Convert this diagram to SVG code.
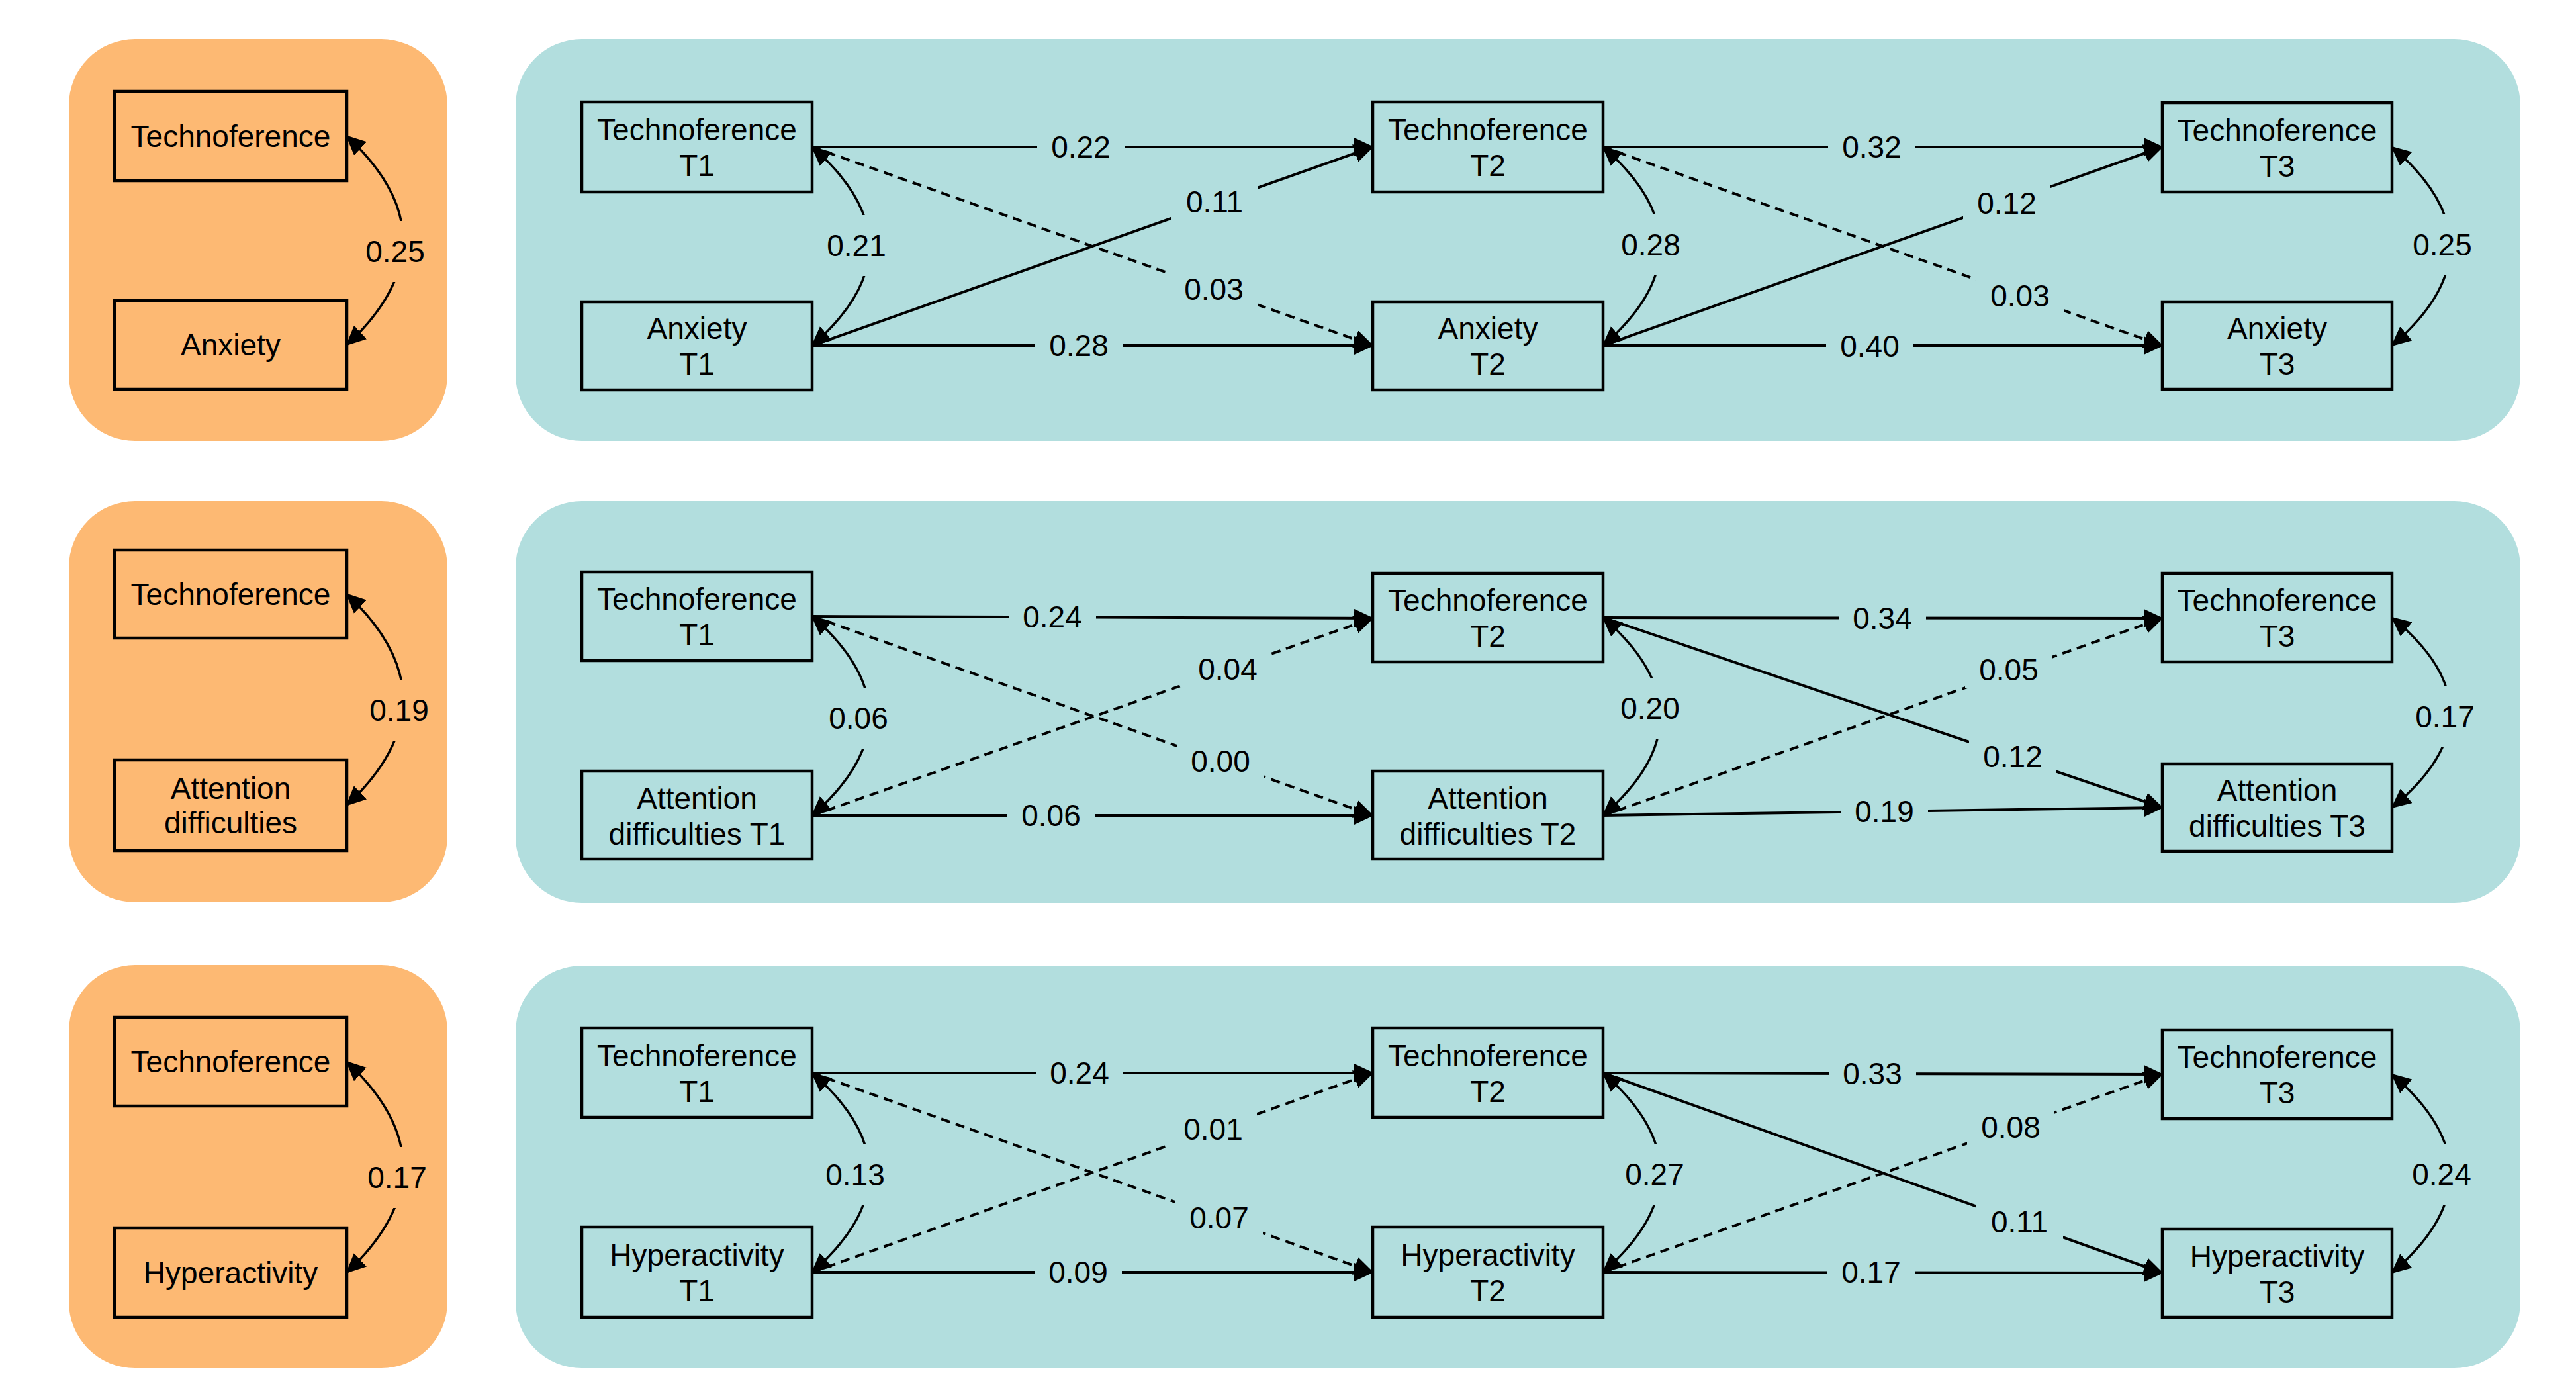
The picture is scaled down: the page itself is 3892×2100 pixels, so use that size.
<svg xmlns="http://www.w3.org/2000/svg" width="3892" height="2100" viewBox="0 0 3892 2100">
<style>
.po{fill:#FDB973}
.pb{fill:#B2DEDE}
.box{fill:none;stroke:#000;stroke-width:4.5}
.t{font-family:"Liberation Sans",Arial,sans-serif;font-size:46px;text-anchor:middle;fill:#000}
.e{fill:none;stroke:#000;stroke-width:4;marker-end:url(#ah)}
.d{stroke-dasharray:14 9}
.c{fill:none;stroke:#000;stroke-width:3.5;marker-start:url(#ah);marker-end:url(#ah)}
</style>
<defs>
<marker id="ah" viewBox="0 0 30 28" refX="28" refY="14" markerWidth="30" markerHeight="28" markerUnits="userSpaceOnUse" orient="auto-start-reverse">
<path d="M0,0 L30,14 L0,28 z" fill="#000"/>
</marker>
</defs>
<rect width="3892" height="2100" fill="#fff"/>
<g id="panels">
<rect class="po" x="104" y="59" width="572" height="607" rx="100"/>
<rect class="po" x="104" y="757" width="572" height="606" rx="100"/>
<rect class="po" x="104" y="1458" width="572" height="609" rx="100"/>
<rect class="pb" x="779" y="59" width="3029" height="607" rx="100"/>
<rect class="pb" x="779" y="757" width="3029" height="607" rx="100"/>
<rect class="pb" x="779" y="1459" width="3029" height="608" rx="100"/>
</g>
<g id="connectors">
<g id="edges">
<path class="c" d="M524,205.5 Q694,363 524,521"/>
<path class="c" d="M524,897.5 Q694,1057 524,1216.5"/>
<path class="c" d="M524,1604 Q694,1763 524,1922.5"/>

<path class="e" d="M1227,222 L2074,222"/>
<path class="e" d="M1227,522 L2074,522"/>
<path class="e" d="M1227,522 L2074,222"/>
<path class="e d" d="M1227,222 L2074,522"/>
<path class="c" d="M1227,222 Q1400,372 1227,522"/>
<path class="e" d="M2422,222 L3267,222"/>
<path class="e" d="M2422,522 L3267,522"/>
<path class="e" d="M2422,522 L3267,222"/>
<path class="e d" d="M2422,222 L3267,522"/>
<path class="c" d="M2422,222 Q2595,372 2422,522"/>
<path class="c" d="M3614,222 Q3790,372 3614,522"/>

<path class="e" d="M1227,931 L2074,934"/>
<path class="e" d="M1227,1232 L2074,1232"/>
<path class="e d" d="M1227,1232 L2074,934"/>
<path class="e d" d="M1227,931 L2074,1232"/>
<path class="c" d="M1227,931 Q1400,1081 1227,1232"/>
<path class="e" d="M2422,933 L3267,934"/>
<path class="e" d="M2422,1232 L3267,1220"/>
<path class="e d" d="M2422,1232 L3267,934"/>
<path class="e" d="M2422,933 L3267,1220"/>
<path class="c" d="M2422,933 Q2595,1082 2422,1232"/>
<path class="c" d="M3614,933 Q3790,1076 3614,1220"/>

<path class="e" d="M1227,1621 L2074,1621"/>
<path class="e" d="M1227,1922 L2074,1922"/>
<path class="e d" d="M1227,1922 L2074,1621"/>
<path class="e d" d="M1227,1621 L2074,1922"/>
<path class="c" d="M1227,1621 Q1400,1771 1227,1922"/>
<path class="e" d="M2422,1621 L3267,1623"/>
<path class="e" d="M2422,1922 L3267,1923"/>
<path class="e d" d="M2422,1922 L3267,1623"/>
<path class="e" d="M2422,1621 L3267,1923"/>
<path class="c" d="M2422,1621 Q2595,1771 2422,1922"/>
<path class="c" d="M3614,1623 Q3790,1773 3614,1923"/>
</g>
<g id="edge-labels">
<rect class="po" x="547" y="334" width="100" height="92"/><text class="t" x="597" y="396">0.25</text>
<rect class="po" x="553" y="1027" width="100" height="92"/><text class="t" x="603" y="1089">0.19</text>
<rect class="po" x="550" y="1733" width="100" height="92"/><text class="t" x="600" y="1795">0.17</text>

<rect class="pb" x="1567" y="194" width="132" height="56"/><text class="t" x="1633" y="238">0.22</text>
<rect class="pb" x="1564" y="494" width="132" height="56"/><text class="t" x="1630" y="538">0.28</text>
<rect class="pb" x="1769" y="277" width="132" height="56"/><text class="t" x="1835" y="321">0.11</text>
<rect class="pb" x="1768" y="409" width="132" height="56"/><text class="t" x="1834" y="453">0.03</text>
<rect class="pb" x="1244" y="325" width="100" height="92"/><text class="t" x="1294" y="387">0.21</text>
<rect class="pb" x="2762" y="194" width="132" height="56"/><text class="t" x="2828" y="238">0.32</text>
<rect class="pb" x="2759" y="495" width="132" height="56"/><text class="t" x="2825" y="539">0.40</text>
<rect class="pb" x="2966" y="279" width="132" height="56"/><text class="t" x="3032" y="323">0.12</text>
<rect class="pb" x="2986" y="419" width="132" height="56"/><text class="t" x="3052" y="463">0.03</text>
<rect class="pb" x="2444" y="324" width="100" height="92"/><text class="t" x="2494" y="386">0.28</text>
<rect class="pb" x="3640" y="324" width="100" height="92"/><text class="t" x="3690" y="386">0.25</text>

<rect class="pb" x="1524" y="904" width="132" height="56"/><text class="t" x="1590" y="948">0.24</text>
<rect class="pb" x="1522" y="1204" width="132" height="56"/><text class="t" x="1588" y="1248">0.06</text>
<rect class="pb" x="1789" y="983" width="132" height="56"/><text class="t" x="1855" y="1027">0.04</text>
<rect class="pb" x="1778" y="1122" width="132" height="56"/><text class="t" x="1844" y="1166">0.00</text>
<rect class="pb" x="1247" y="1039" width="100" height="92"/><text class="t" x="1297" y="1101">0.06</text>
<rect class="pb" x="2778" y="906" width="132" height="56"/><text class="t" x="2844" y="950">0.34</text>
<rect class="pb" x="2781" y="1198" width="132" height="56"/><text class="t" x="2847" y="1242">0.19</text>
<rect class="pb" x="2969" y="984" width="132" height="56"/><text class="t" x="3035" y="1028">0.05</text>
<rect class="pb" x="2975" y="1115" width="132" height="56"/><text class="t" x="3041" y="1159">0.12</text>
<rect class="pb" x="2443" y="1024" width="100" height="92"/><text class="t" x="2493" y="1086">0.20</text>
<rect class="pb" x="3644" y="1037" width="100" height="92"/><text class="t" x="3694" y="1099">0.17</text>

<rect class="pb" x="1565" y="1593" width="132" height="56"/><text class="t" x="1631" y="1637">0.24</text>
<rect class="pb" x="1563" y="1894" width="132" height="56"/><text class="t" x="1629" y="1938">0.09</text>
<rect class="pb" x="1767" y="1678" width="132" height="56"/><text class="t" x="1833" y="1722">0.01</text>
<rect class="pb" x="1776" y="1812" width="132" height="56"/><text class="t" x="1842" y="1856">0.07</text>
<rect class="pb" x="1242" y="1729" width="100" height="92"/><text class="t" x="1292" y="1791">0.13</text>
<rect class="pb" x="2763" y="1594" width="132" height="56"/><text class="t" x="2829" y="1638">0.33</text>
<rect class="pb" x="2761" y="1894" width="132" height="56"/><text class="t" x="2827" y="1938">0.17</text>
<rect class="pb" x="2972" y="1675" width="132" height="56"/><text class="t" x="3038" y="1719">0.08</text>
<rect class="pb" x="2985" y="1818" width="132" height="56"/><text class="t" x="3051" y="1862">0.11</text>
<rect class="pb" x="2450" y="1728" width="100" height="92"/><text class="t" x="2500" y="1790">0.27</text>
<rect class="pb" x="3639" y="1728" width="100" height="92"/><text class="t" x="3689" y="1790">0.24</text>
</g>
</g>

<g id="o1-tech"><rect class="box" x="173" y="138" width="351" height="135"/><text class="t" x="348.5" y="221.5">Technoference</text></g>
<g id="o1-anx"><rect class="box" x="173" y="454" width="351" height="134"/><text class="t" x="348.5" y="537">Anxiety</text></g>
<g id="o2-tech"><rect class="box" x="173" y="831" width="351" height="133"/><text class="t" x="348.5" y="913.5">Technoference</text></g>
<g id="o2-att"><rect class="box" x="173" y="1148" width="351" height="137"/><text class="t" x="348.5" y="1206.5">Attention</text><text class="t" x="348.5" y="1258.5">difficulties</text></g>
<g id="o3-tech"><rect class="box" x="173" y="1537" width="351" height="134"/><text class="t" x="348.5" y="1620">Technoference</text></g>
<g id="o3-hyp"><rect class="box" x="173" y="1855" width="351" height="135"/><text class="t" x="348.5" y="1938.5">Hyperactivity</text></g>

<g id="r1-tech-t1"><rect class="box" x="879" y="154" width="348" height="136"/><text class="t" x="1053" y="212">Technoference</text><text class="t" x="1053" y="266">T1</text></g>
<g id="r1-anx-t1"><rect class="box" x="879" y="456" width="348" height="133"/><text class="t" x="1053" y="512">Anxiety</text><text class="t" x="1053" y="566">T1</text></g>
<g id="r1-tech-t2"><rect class="box" x="2074" y="154" width="348" height="136"/><text class="t" x="2248" y="212">Technoference</text><text class="t" x="2248" y="266">T2</text></g>
<g id="r1-anx-t2"><rect class="box" x="2074" y="456" width="348" height="133"/><text class="t" x="2248" y="512">Anxiety</text><text class="t" x="2248" y="566">T2</text></g>
<g id="r1-tech-t3"><rect class="box" x="3267" y="155" width="347" height="135"/><text class="t" x="3440.5" y="212.5">Technoference</text><text class="t" x="3440.5" y="266.5">T3</text></g>
<g id="r1-anx-t3"><rect class="box" x="3267" y="456" width="347" height="132"/><text class="t" x="3440.5" y="512">Anxiety</text><text class="t" x="3440.5" y="566">T3</text></g>

<g id="r2-tech-t1"><rect class="box" x="879" y="864" width="348" height="134"/><text class="t" x="1053" y="921">Technoference</text><text class="t" x="1053" y="975">T1</text></g>
<g id="r2-att-t1"><rect class="box" x="879" y="1165" width="348" height="133"/><text class="t" x="1053" y="1221.5">Attention</text><text class="t" x="1053" y="1275.5">difficulties T1</text></g>
<g id="r2-tech-t2"><rect class="box" x="2074" y="866" width="348" height="134"/><text class="t" x="2248" y="923">Technoference</text><text class="t" x="2248" y="977">T2</text></g>
<g id="r2-att-t2"><rect class="box" x="2074" y="1165" width="348" height="133"/><text class="t" x="2248" y="1221.5">Attention</text><text class="t" x="2248" y="1275.5">difficulties T2</text></g>
<g id="r2-tech-t3"><rect class="box" x="3267" y="866" width="347" height="134"/><text class="t" x="3440.5" y="923">Technoference</text><text class="t" x="3440.5" y="977">T3</text></g>
<g id="r2-att-t3"><rect class="box" x="3267" y="1154" width="347" height="132"/><text class="t" x="3440.5" y="1210">Attention</text><text class="t" x="3440.5" y="1264">difficulties T3</text></g>

<g id="r3-tech-t1"><rect class="box" x="879" y="1553" width="348" height="135"/><text class="t" x="1053" y="1610.5">Technoference</text><text class="t" x="1053" y="1664.5">T1</text></g>
<g id="r3-hyp-t1"><rect class="box" x="879" y="1854" width="348" height="136"/><text class="t" x="1053" y="1912">Hyperactivity</text><text class="t" x="1053" y="1966">T1</text></g>
<g id="r3-tech-t2"><rect class="box" x="2074" y="1553" width="348" height="135"/><text class="t" x="2248" y="1610.5">Technoference</text><text class="t" x="2248" y="1664.5">T2</text></g>
<g id="r3-hyp-t2"><rect class="box" x="2074" y="1854" width="348" height="136"/><text class="t" x="2248" y="1912">Hyperactivity</text><text class="t" x="2248" y="1966">T2</text></g>
<g id="r3-tech-t3"><rect class="box" x="3267" y="1556" width="347" height="134"/><text class="t" x="3440.5" y="1613">Technoference</text><text class="t" x="3440.5" y="1667">T3</text></g>
<g id="r3-hyp-t3"><rect class="box" x="3267" y="1857" width="347" height="133"/><text class="t" x="3440.5" y="1913.5">Hyperactivity</text><text class="t" x="3440.5" y="1967.5">T3</text></g>
</svg>
